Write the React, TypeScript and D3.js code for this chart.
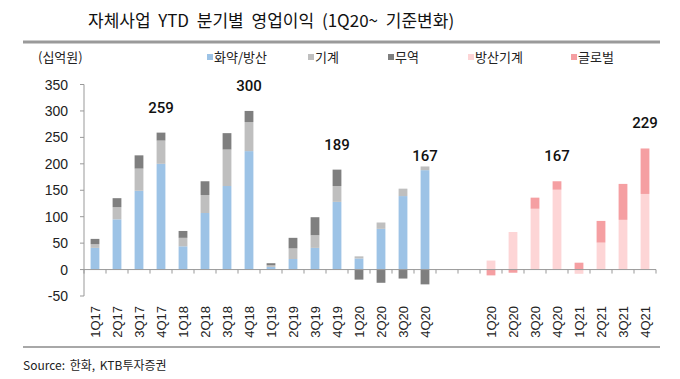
import React from "react";
import * as d3 from "d3";

const quarters1 = ["1Q17","2Q17","3Q17","4Q17","1Q18","2Q18","3Q18","4Q18","1Q19","2Q19","3Q19","4Q19","1Q20","2Q20","3Q20","4Q20"];
const explosives = [41,95,149,200,44,107,158,224,5,20,41,128,21,77,139,188];
const machinery = [7,23,42,44,16,34,69,55,3,20,24,30,4,12,14,7];
const trading = [10,17,25,15,13,26,31,21,4,20,34,31,-19,-25,-17,-28];

const quarters2 = ["1Q20","2Q20","3Q20","4Q20","1Q21","2Q21","3Q21","4Q21"];
const defenseMachinery = [17,71,115,151,-8,51,94,143];
const globalBiz = [-11,-6,21,16,13,41,68,86];

const yTicks = [-50,0,50,100,150,200,250,300,350];
const labels1 = [{ q: "4Q17", v: 259 }, { q: "4Q18", v: 300 }, { q: "4Q19", v: 189 }, { q: "4Q20", v: 167 }];
const labels2 = [{ q: "4Q20", v: 167 }, { q: "4Q21", v: 229 }];

const legendItems = [
  { name: "화약/방산", color: "#9DC3E6" },
  { name: "기계", color: "#BFBFBF" },
  { name: "무역", color: "#7F7F7F" },
  { name: "방산기계", color: "#FDD5D6" },
  { name: "글로벌", color: "#F59FA2" },
];

const W = 680, H = 379;
const sans = "'Liberation Sans', Arial, sans-serif";
const kr = "'Noto Sans CJK KR', sans-serif";

export default function App() {
  const slots = [
    ...quarters1.map((q) => "a" + q),
    "gap1",
    "gap2",
    ...quarters2.map((q) => "b" + q),
  ];
  const x = d3.scaleBand<string>().domain(slots).range([84, 656]).paddingInner(0.6).paddingOuter(0.3);
  const y = d3.scaleLinear().domain([-50, 350]).range([296, 84.5]);

  const rows1 = quarters1.map((q, i) => ({ key: "a" + q, e: explosives[i], m: machinery[i], t: trading[i] }));
  const rows2 = quarters2.map((q, i) => ({ key: "b" + q, d: defenseMachinery[i], g: globalBiz[i] }));
  const stack1 = d3.stack<any>().keys(["e", "m", "t"]).offset(d3.stackOffsetDiverging)(rows1);
  const stack2 = d3.stack<any>().keys(["d", "g"]).offset(d3.stackOffsetDiverging)(rows2);
  const colors1 = [legendItems[0].color, legendItems[1].color, legendItems[2].color];
  const colors2 = [legendItems[3].color, legendItems[4].color];

  const step = x.step();
  const boundaries = d3.range(slots.length + 1).map((i) => 84 + i * step);

  const legendX = [207, 308, 388, 468, 571];

  return (
    <svg width={W} height={H} style={{ position: "absolute", left: 0, top: 0 }}>
      <rect width={W} height={H} fill="#fff" />
      <text x={88} y={27} fontFamily={kr} fontSize={17} fill="#111" wordSpacing={4}>
        자체사업 YTD 분기별 영업이익 (1Q20~ 기준변화)
      </text>
      <line x1={23} x2={660} y1={42} y2={42} stroke="#9a9a9a" strokeWidth={3} />
      <text x={38} y={62} fontFamily={kr} fontSize={13} fill="#222">(십억원)</text>
      {legendItems.map((l, i) => (
        <g key={l.name}>
          <rect x={legendX[i]} y={54} width={6} height={6} fill={l.color} />
          <text x={legendX[i] + 7} y={62} fontFamily={kr} fontSize={13} fill="#222">{l.name}</text>
        </g>
      ))}

      {stack1.map((s, si) =>
        s.map((d: any, i: number) => (
          <rect key={"s1" + si + "-" + i} x={x(rows1[i].key)} width={x.bandwidth()}
            y={y(Math.max(d[0], d[1]))} height={Math.abs(y(d[0]) - y(d[1]))} fill={colors1[si]} />
        ))
      )}
      {stack2.map((s, si) =>
        s.map((d: any, i: number) => (
          <rect key={"s2" + si + "-" + i} x={x(rows2[i].key)} width={x.bandwidth()}
            y={y(Math.max(d[0], d[1]))} height={Math.abs(y(d[0]) - y(d[1]))} fill={colors2[si]} />
        ))
      )}

      <line x1={84} x2={84} y1={y(350)} y2={y(-50)} stroke="#999" />
      {yTicks.map((t) => (
        <g key={t}>
          <line x1={80} x2={84} y1={y(t)} y2={y(t)} stroke="#999" />
          <text x={68} y={y(t) + 5} textAnchor="end" fontFamily={sans} fontSize={14} fill="#222">{t}</text>
        </g>
      ))}
      <line x1={84} x2={656} y1={y(0)} y2={y(0)} stroke="#999" />
      {boundaries.map((b, i) => (
        <line key={i} x1={b} x2={b} y1={y(0)} y2={y(0) + 4} stroke="#999" />
      ))}
      {slots.map((s) =>
        s.startsWith("gap") ? null : (
          <text key={s} transform={`translate(${x(s)! + x.bandwidth() / 2 + 5},306) rotate(-90)`}
            textAnchor="end" fontFamily={sans} fontSize={13} fill="#222">{s.slice(1)}</text>
        )
      )}

      {labels1.map((l) => (
        <text key={"l1" + l.q} x={x("a" + l.q)! + x.bandwidth() / 2} y={y(l.v) - 20} textAnchor="middle"
          fontFamily="Roboto, sans-serif" fontWeight={500} fontSize={15} fill="#111">{l.v}</text>
      ))}
      {labels2.map((l) => (
        <text key={"l2" + l.q} x={x("b" + l.q)! + x.bandwidth() / 2} y={y(l.v) - 20} textAnchor="middle"
          fontFamily="Roboto, sans-serif" fontWeight={500} fontSize={15} fill="#111">{l.v}</text>
      ))}

      <line x1={23} x2={660} y1={347} y2={347} stroke="#a8a8a8" strokeWidth={2} />
      <text x={23} y={370} fontFamily={kr} fontSize={12} fill="#222" wordSpacing={2}>Source:  한화, KTB투자증권</text>
    </svg>
  );
}
